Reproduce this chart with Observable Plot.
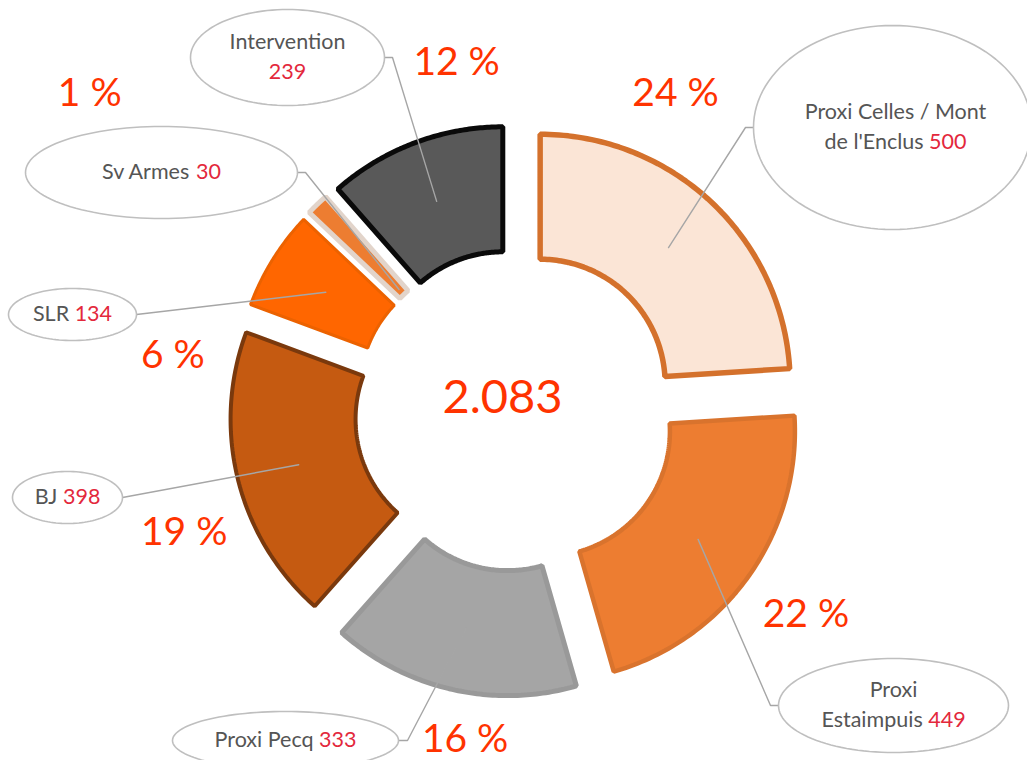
<!DOCTYPE html>
<html><head><meta charset="utf-8">
<script src="https://cdn.jsdelivr.net/npm/d3@7"></script>
<script src="https://cdn.jsdelivr.net/npm/@observablehq/plot@0.6"></script>
<style>html,body{margin:0;padding:0;background:#fff;} #chart{width:1027px;height:760px;}</style>
</head><body><div id="chart"></div>
<script>
// ---- data ----
const categories = ["Proxi Celles / Mont de l'Enclus", "Proxi Estaimpuis", "Proxi Pecq", "BJ", "SLR", "Sv Armes", "Intervention"];
const values = [500, 449, 333, 398, 134, 30, 239];
const percentLabels = ["24 %", "22 %", "16 %", "19 %", "6 %", "1 %", "12 %"];
const nameLines = [["Proxi Celles / Mont", "de l'Enclus"], ["Proxi", "Estaimpuis"], ["Proxi Pecq"], ["BJ"], ["SLR"], ["Sv Armes"], ["Intervention", ""]];

// ---- styles ----
const fills = ["#FBE5D6", "#ED7D31", "#A5A5A5", "#C55A11", "#FF6600", "#ED7D31", "#595959"];
const strokes = ["#D4712C", "#D9732D", "#999999", "#7A390D", "#EC6200", "#E2D4CA", "#0A0A0A"];
const strokeWidths = [5.5, 4.5, 5, 4, 3, 5, 5];

// ---- layout ----
const W = 1027, H = 760;
const C = {x: 515, y: 410};
const R = 250, r = 125, explode = 36;
// percent labels: polar around donut center (deg, px)
const pctPolar = [[26.8, 355], [125.1, 355], [188.7, 333], [249.8, 353], [279.1, 347], [306.7, 531], [350.4, 353]];
// callout ellipses relative to center
const callouts = [
  {dx: 377, dy: -283, rx: 139, ry: 102, side: -1, elbow: 8, tdx: 3},
  {dx: 378, dy: 295, rx: 115, ry: 47, side: -1, elbow: 8, tdx: 0},
  {dx: -230, dy: 330, rx: 113, ry: 29, side: 1, elbow: 9, tdx: 0},
  {dx: -448, dy: 87, rx: 55, ry: 26, side: 1, elbow: 0, tdx: 0},
  {dx: -443, dy: -96, rx: 64, ry: 26, side: 1, elbow: 0, tdx: 0},
  {dx: -354, dy: -238, rx: 136, ry: 46, side: 1, elbow: 8, tdx: 0, leaderR: 132},
  {dx: -228, dy: -353, rx: 97, ry: 48, side: 1, elbow: 8, tdx: 0}
];
const lineGap = 30;

const pie = d3.pie().sort(null).value(d => d)(values);
const slices = pie.map((p, i) => {
  const mid = (p.startAngle + p.endAngle) / 2;
  const cx = C.x + explode * Math.sin(mid), cy = C.y - explode * Math.cos(mid);
  const pts = [];
  const n = 80;
  for (let k = 0; k <= n; k++) {
    const a = p.startAngle + (p.endAngle - p.startAngle) * k / n;
    pts.push({x: cx + R * Math.sin(a), y: cy - R * Math.cos(a)});
  }
  for (let k = n; k >= 0; k--) {
    const a = p.startAngle + (p.endAngle - p.startAngle) * k / n;
    pts.push({x: cx + r * Math.sin(a), y: cy - r * Math.cos(a)});
  }
  return {i, mid, cx, cy, pts};
});

// leaders
const leaders = slices.map((s, i) => {
  const c = callouts[i];
  const ex = C.x + c.dx + c.side * c.rx, ey = C.y + c.dy;
  const lr = c.leaderR ?? (R + r) / 2;
  const px = s.cx + lr * Math.sin(s.mid), py = s.cy - lr * Math.cos(s.mid);
  const pts = [{x: ex, y: ey}];
  if (c.elbow) pts.push({x: ex + c.side * c.elbow, y: ey});
  pts.push({x: px, y: py});
  return pts;
});

// ellipses
const ellipses = callouts.map(c => {
  const pts = [];
  for (let k = 0; k < 120; k++) {
    const t = 2 * Math.PI * k / 120;
    pts.push({x: C.x + c.dx + c.rx * Math.cos(t), y: C.y + c.dy + c.ry * Math.sin(t)});
  }
  return pts;
});

// callout text pieces
const ctx = document.createElement("canvas").getContext("2d");
const FS = 21.5;
ctx.font = `${FS}px Lato`;
const mw = s => ctx.measureText(s).width;
const textPieces = [];
categories.forEach((cat, i) => {
  const c = callouts[i];
  const lines = nameLines[i];
  const ecx = C.x + c.dx + c.tdx, ecy = C.y + c.dy;
  lines.forEach((ln, j) => {
    const y = ecy + (j - (lines.length - 1) / 2) * lineGap;
    const isLast = j === lines.length - 1;
    const val = isLast ? String(values[i]) : "";
    const sp = ln && val ? mw(" ") : 0;
    const total = mw(ln) + sp + mw(val);
    const x0 = ecx - total / 2;
    if (ln) textPieces.push({x: x0, y, text: ln, color: "#555555"});
    if (val) textPieces.push({x: x0 + mw(ln) + sp, y, text: val, color: "#E3283C"});
  });
});

const pctData = percentLabels.map((t, i) => {
  const a = pctPolar[i][0] * Math.PI / 180, d = pctPolar[i][1];
  return {text: t, x: C.x + d * Math.sin(a), y: C.y - d * Math.cos(a)};
});

const fmt = d3.formatLocale({decimal: ",", thousands: ".", grouping: [3], currency: ["", "€"]}).format(",");
const totalText = fmt(d3.sum(values));

const marks = [];
slices.forEach((s, i) => {
  marks.push(Plot.line(s.pts, {x: "x", y: "y", curve: "linear-closed", fill: fills[i], stroke: strokes[i], strokeWidth: strokeWidths[i], strokeLinejoin: "miter"}));
});
leaders.forEach(pts => marks.push(Plot.line(pts, {x: "x", y: "y", stroke: "#A6A6A6", strokeWidth: 1.4})));
ellipses.forEach(pts => marks.push(Plot.line(pts, {x: "x", y: "y", curve: "linear-closed", fill: "white", stroke: "#BFBFBF", strokeWidth: 1.6})));
marks.push(Plot.text(textPieces, {x: "x", y: "y", text: "text", fill: "color", textAnchor: "start", lineAnchor: "middle", fontSize: FS, fontFamily: "Lato"}));
marks.push(Plot.text(pctData, {x: "x", y: "y", text: "text", fill: "#FF3300", textAnchor: "middle", lineAnchor: "middle", fontSize: 39, fontFamily: "Lato"}));
marks.push(Plot.text([totalText], {x: () => C.x - 13, y: () => C.y - 13, text: d => d, fill: "#FF3300", textAnchor: "middle", lineAnchor: "middle", fontSize: 47, fontFamily: "Lato"}));

const chart = Plot.plot({
  width: W, height: H, margin: 0,
  x: {domain: [0, W], range: [0, W], axis: null},
  y: {domain: [0, H], range: [0, H], axis: null},
  color: {type: "identity"},
  style: {fontFamily: "Lato", background: "white"},
  marks
});
document.getElementById("chart").appendChild(chart);
</script>
</body></html>
